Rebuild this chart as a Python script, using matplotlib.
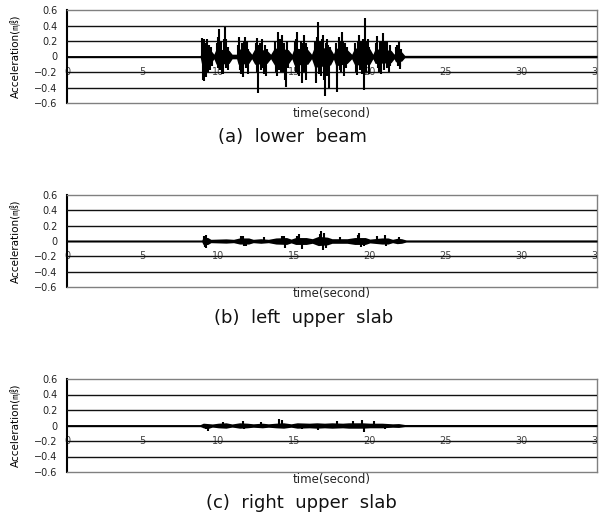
import matplotlib
matplotlib.use("Agg")
import matplotlib.pyplot as plt

plt.rcParams['font.family'] = ['DejaVu Sans', 'Noto Sans CJK KR']

# ---------------- data ----------------
captions = ["(a)  lower  beam", "(b)  left  upper  slab", "(c)  right  upper  slab"]
y_ticks = [0.6, 0.4, 0.2, 0, -0.2, -0.4, -0.6]
y_tick_labels = ["0.6", "0.4", "0.2", "0", "\u22120.2", "\u22120.4", "\u22120.6"]
x_ticks = [0, 5, 10, 15, 20, 25, 30, 35]
x_tick_labels = ["0", "5", "10", "15", "20", "25", "30", "35"]
y_label = "Acceleration(\u33a8)"
x_label = "time(second)"

# panel (a): envelope of the dense signal core (time, upper, lower) and peak spikes
a_env_t = [0, 8.8, 8.9, 9.5, 9.7, 9.85, 10.7, 10.9, 11.2, 11.3, 12.0, 12.2, 12.4, 13.2, 13.45,
           13.7, 14.6, 14.85, 15.0, 15.9, 16.15, 16.35, 17.4, 17.6, 17.75, 18.5, 18.8, 19.0,
           20.0, 20.2, 20.35, 21.4, 21.6, 21.7, 22.1, 22.3, 35]
a_env_up = [0.012, 0.012, 0.10, 0.08, 0.03, 0.10, 0.08, 0.03, 0.03, 0.10, 0.08, 0.03, 0.10, 0.08, 0.03,
            0.11, 0.09, 0.03, 0.11, 0.09, 0.03, 0.13, 0.10, 0.035, 0.11, 0.09, 0.03, 0.11,
            0.10, 0.03, 0.10, 0.08, 0.03, 0.07, 0.06, 0.015, 0.015]
a_env_dn = [-0.012, -0.012, -0.11, -0.09, -0.03, -0.10, -0.09, -0.03, -0.03, -0.10, -0.09, -0.03, -0.10, -0.09, -0.03,
            -0.11, -0.10, -0.03, -0.11, -0.10, -0.03, -0.14, -0.11, -0.035, -0.12, -0.09, -0.03, -0.11,
            -0.10, -0.03, -0.09, -0.08, -0.03, -0.07, -0.06, -0.015, -0.015]
a_spike_t = [8.92, 8.97, 9.02, 9.07, 9.12, 9.17, 9.22, 9.28, 9.35, 9.42, 9.5, 9.55,
             9.9, 9.95, 10.0, 10.05, 10.1, 10.18, 10.25, 10.3, 10.36, 10.42, 10.48, 10.53, 10.6, 10.66,
             11.32, 11.38, 11.45, 11.5, 11.56, 11.62, 11.68, 11.75, 11.8, 11.86, 11.92, 11.97,
             12.45, 12.52, 12.57, 12.63, 12.7, 12.76, 12.82, 12.9, 12.96, 13.02, 13.08, 13.12, 13.18,
             13.75, 13.82, 13.87, 13.95, 14.02, 14.08, 14.15, 14.2, 14.28, 14.35, 14.42, 14.46, 14.52, 14.57,
             15.05, 15.1, 15.15, 15.22, 15.28, 15.35, 15.42, 15.5, 15.56, 15.62, 15.68, 15.75, 15.8, 15.86,
             16.38, 16.42, 16.47, 16.53, 16.6, 16.66, 16.72, 16.78, 16.84, 16.9, 16.96, 17.02, 17.08,
             17.15, 17.2, 17.26, 17.3, 17.36,
             17.78, 17.82, 17.86, 17.93, 18.0, 18.06, 18.12, 18.18, 18.24, 18.3, 18.36, 18.42, 18.47,
             19.05, 19.1, 19.16, 19.22, 19.3, 19.36, 19.42, 19.5, 19.56, 19.62, 19.68, 19.74, 19.8,
             19.86, 19.92, 19.97,
             20.4, 20.46, 20.52, 20.6, 20.66, 20.74, 20.8, 20.88, 20.95, 21.02, 21.1, 21.16, 21.24,
             21.3, 21.36,
             21.75, 21.8, 21.85, 21.9, 21.96, 22.0, 22.06]
a_spike_v = [0.24, -0.30, 0.22, -0.31, 0.18, -0.26, 0.22, -0.20, 0.15, -0.18, 0.12, -0.12,
             0.18, -0.15, 0.25, 0.36, -0.18, 0.20, -0.22, -0.23, 0.22, 0.38, -0.15, 0.22, -0.18, 0.12,
             0.15, 0.25, -0.18, -0.22, 0.18, -0.26, 0.20, 0.25, -0.15, 0.20, -0.22, 0.10,
             0.18, 0.24, -0.20, -0.47, 0.15, 0.18, -0.18, 0.22, -0.15, -0.22, 0.15, -0.25, 0.10,
             0.20, -0.20, -0.25, 0.31, -0.18, 0.22, -0.20, 0.28, -0.20, 0.18, -0.30, -0.39, 0.20, -0.15,
             0.20, -0.20, 0.22, 0.31, -0.22, -0.25, 0.20, -0.34, 0.18, 0.28, -0.20, 0.18, -0.30, 0.12,
             0.20, -0.25, -0.34, 0.25, 0.44, -0.22, 0.20, -0.25, 0.22, 0.28, -0.30, -0.51, 0.18,
             0.22, -0.25, 0.15, -0.40, 0.12,
             0.18, -0.25, -0.46, 0.25, -0.18, 0.20, -0.20, 0.31, 0.20, -0.25, 0.18, -0.15, 0.12,
             0.18, -0.20, -0.24, 0.20, 0.28, -0.18, 0.20, -0.22, 0.22, -0.43, 0.50, -0.20, 0.20,
             0.22, -0.22, 0.12,
             0.18, 0.26, -0.15, -0.20, 0.20, -0.23, 0.20, 0.30, -0.18, 0.20, 0.20, -0.15, -0.20,
             0.15, -0.12,
             0.12, 0.15, -0.12, 0.19, -0.14, -0.16, 0.10]

# panel (b)
b_env_t = [0, 8.9, 9.0, 9.3, 9.5, 10.5, 11.0, 11.4, 12.0, 12.3, 12.8, 13.3, 13.8, 14.5, 14.8,
           15.1, 15.8, 16.2, 16.6, 17.2, 17.5, 18.5, 19.0, 19.7, 20.0, 20.8, 21.2, 21.5,
           21.8, 22.1, 22.4, 35]
b_env_up = [0.012, 0.012, 0.05, 0.045, 0.022, 0.028, 0.022, 0.04, 0.04, 0.022, 0.03, 0.022, 0.04, 0.045, 0.025,
            0.045, 0.045, 0.03, 0.06, 0.05, 0.03, 0.03, 0.045, 0.045, 0.025, 0.04, 0.04, 0.022,
            0.035, 0.03, 0.013, 0.013]
b_env_dn = [-0.012, -0.012, -0.05, -0.045, -0.022, -0.028, -0.022, -0.04, -0.04, -0.022, -0.03, -0.022, -0.04, -0.045, -0.025,
            -0.045, -0.045, -0.03, -0.06, -0.05, -0.03, -0.03, -0.045, -0.045, -0.025, -0.04, -0.04, -0.022,
            -0.035, -0.03, -0.013, -0.013]
b_spike_t = [9.05, 9.1, 9.15, 9.2, 11.5, 11.6, 11.7, 11.8, 13.0, 14.2, 14.3, 14.4, 15.2, 15.3, 15.5,
             16.7, 16.8, 16.9, 17.0, 17.1, 18.0, 19.2, 19.3, 19.4, 19.6, 20.5, 21.0, 21.05, 21.9]
b_spike_v = [0.07, -0.08, 0.08, -0.09, 0.06, 0.07, -0.07, -0.06, 0.05, 0.06, 0.07, -0.09, 0.07, 0.09, -0.10,
             0.09, 0.13, -0.12, 0.11, -0.09, 0.05, 0.08, 0.10, -0.08, -0.07, 0.06, 0.08, -0.07, 0.05]

# panel (c)
c_env_t = [0, 8.8, 9.0, 9.3, 9.6, 10.0, 10.5, 10.9, 11.4, 11.9, 12.3, 12.9, 13.3, 13.8, 14.3, 14.8,
           15.2, 16.0, 16.5, 17.0, 17.5, 18.2, 18.6, 19.5, 20.0, 20.8, 21.5, 21.9, 22.3, 35]
c_env_up = [0.012, 0.012, 0.03, 0.025, 0.02, 0.03, 0.035, 0.02, 0.035, 0.03, 0.022, 0.03, 0.022, 0.03, 0.035, 0.022,
            0.035, 0.03, 0.035, 0.03, 0.035, 0.03, 0.035, 0.035, 0.03, 0.03, 0.022, 0.025, 0.013, 0.013]
c_env_dn = [-0.012, -0.012, -0.03, -0.04, -0.02, -0.03, -0.035, -0.02, -0.035, -0.03, -0.022, -0.03, -0.022, -0.03, -0.035, -0.022,
            -0.035, -0.03, -0.035, -0.03, -0.035, -0.03, -0.035, -0.035, -0.03, -0.03, -0.022, -0.025, -0.013, -0.013]
c_spike_t = [9.2, 9.3, 10.3, 11.6, 11.7, 12.8, 14.0, 14.2, 15.5, 16.6, 17.8, 18.9, 19.5, 19.6, 20.3, 21.0]
c_spike_v = [-0.05, -0.07, 0.05, 0.06, -0.05, 0.05, 0.09, 0.07, -0.05, -0.06, 0.06, 0.06, 0.07, -0.09, 0.06, -0.05]

panels = [
    (a_env_t, a_env_up, a_env_dn, a_spike_t, a_spike_v),
    (b_env_t, b_env_up, b_env_dn, b_spike_t, b_spike_v),
    (c_env_t, c_env_up, c_env_dn, c_spike_t, c_spike_v),
]

# ---------------- layout (pixels) ----------------
W, H = 602, 517
ax_left, ax_right = 67, 597
ax_tops = [10, 195, 379]
ax_bottoms = [103, 287, 472]
xlabel_y = [113, 294, 480]
caption_x = [292, 304, 301]
caption_y = [137, 318, 503]

fig = plt.figure(figsize=(W / 100, H / 100), dpi=100)

for i, (et, eu, ed, st, sv) in enumerate(panels):
    ax = fig.add_axes([ax_left / W, 1 - ax_bottoms[i] / H,
                       (ax_right - ax_left) / W, (ax_bottoms[i] - ax_tops[i]) / H])
    ax.set_xlim(0, 35)
    ax.set_ylim(-0.6, 0.6)
    ax.set_yticks(y_ticks)
    ax.set_yticklabels(y_tick_labels, fontsize=7, color='#222222')
    ax.set_xticks([])
    ax.tick_params(axis='y', length=0, pad=7)
    for s in ['top', 'right', 'bottom']:
        ax.spines[s].set_color('#808080')
        ax.spines[s].set_linewidth(1.0)
    ax.spines['left'].set_color('black')
    ax.spines['left'].set_linewidth(1.5)

    for yv in [0.4, 0.2, 0.0, -0.2, -0.4]:
        ax.axhline(yv, color='#111111', lw=1.0, zorder=3)

    for xt, xl in zip(x_ticks, x_tick_labels):
        ax.text(xt, -0.2, xl, ha='center', va='center', fontsize=7, color='#444444',
                zorder=2, clip_on=(xt == 35))

    ax.fill_between(et, ed, eu, color='black', lw=0, zorder=4)
    ax.vlines(st, 0, sv, color='black', lw=1.5, zorder=4)

    ax.set_ylabel(y_label, fontsize=7.5, labelpad=2)
    ax.yaxis.set_label_coords(-0.088, 0.5)

    fig.text((ax_left + ax_right) / 2 / W, 1 - xlabel_y[i] / H, x_label,
             ha='center', va='center', fontsize=8.5, color='#222222')
    fig.text(caption_x[i] / W, 1 - caption_y[i] / H, captions[i],
             ha='center', va='center', fontsize=13, color='#111111')

fig.savefig("out.png", dpi=100)
